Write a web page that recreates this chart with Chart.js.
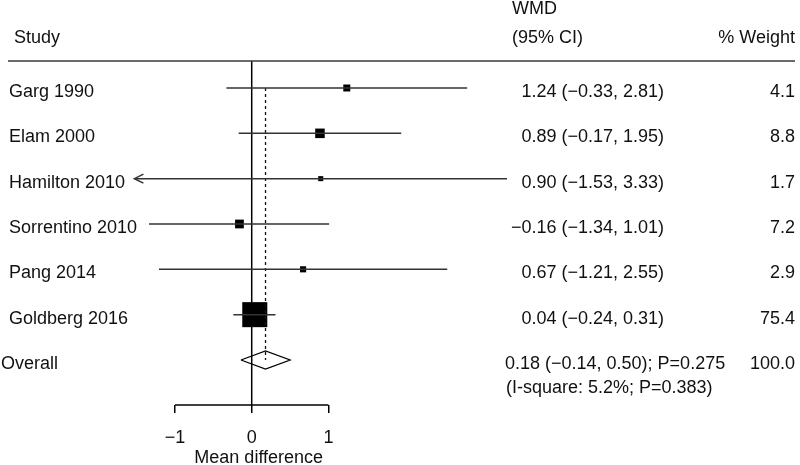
<!DOCTYPE html>
<html>
<head>
<meta charset="utf-8">
<script src="https://cdn.jsdelivr.net/npm/chart.js@4.4.1/dist/chart.umd.min.js"></script>
<style>
  html, body { margin: 0; padding: 0; background: #fff; }
  #wrap { width: 800px; height: 465px; position: relative; }
</style>
</head>
<body>
<div id="wrap"><canvas id="forest"></canvas></div>
<script>
// Study data
const studies = ['Garg 1990', 'Elam 2000', 'Hamilton 2010', 'Sorrentino 2010', 'Pang 2014', 'Goldberg 2016'];
const wmd = [1.24, 0.89, 0.90, -0.16, 0.67, 0.04];
const ciLow = [-0.33, -0.17, -1.53, -1.34, -1.21, -0.24];
const ciHigh = [2.81, 1.95, 3.33, 1.01, 2.55, 0.31];
const weights = [4.1, 8.8, 1.7, 7.2, 2.9, 75.4];
const arrowLeft = ['Hamilton 2010'];

// Pooled estimate
const overallLabel = 'Overall';
const overall = [0.18, -0.14, 0.50];   // est, low, high
const overallP = '0.275';
const overallWeight = '100.0';
const heterogeneity = '(I-square: 5.2%; P=0.383)';

const xTicks = [-1, 0, 1];
const xTitle = 'Mean difference';

const fmt = v => (v < 0 ? '\u2212' : '') + Math.abs(v).toFixed(2);
const ciText = i => `${fmt(wmd[i])} (${fmt(ciLow[i])}, ${fmt(ciHigh[i])})`;

const ink = '#111';
const lineGrey = '#333';
const overallRow = studies.length;

// --- datasets ---
const datasets = [];

// confidence interval whiskers
studies.forEach((s, i) => {
    datasets.push({
        type: 'line',
        data: [{ x: ciLow[i], y: i }, { x: ciHigh[i], y: i }],
        borderColor: lineGrey,
        borderWidth: 1.5,
        pointRadius: 0
    });
});

// dotted line at pooled estimate
datasets.push({
    type: 'line',
    data: [{ x: overall[0], y: 0 }, { x: overall[0], y: overallRow }],
    borderColor: ink,
    borderWidth: 1.3,
    borderDash: [3, 3],
    pointRadius: 0
});

// weight boxes (side grows with sqrt of weight)
datasets.push({
    type: 'scatter',
    data: studies.map((s, i) => ({ x: wmd[i], y: i })),
    pointStyle: 'rect',
    pointRadius: weights.map(w => (1.5 + 2.71 * Math.sqrt(w)) / Math.SQRT2),
    backgroundColor: '#000',
    borderWidth: 0
});

// pooled diamond
const dh = 0.2;
datasets.push({
    type: 'line',
    data: [
        { x: overall[1], y: overallRow },
        { x: overall[0], y: overallRow - dh },
        { x: overall[2], y: overallRow },
        { x: overall[0], y: overallRow + dh },
        { x: overall[1], y: overallRow }
    ],
    borderColor: '#000',
    borderWidth: 1.3,
    backgroundColor: '#fff',
    fill: true,
    tension: 0,
    pointRadius: 0
});

// --- table text, zero line, axis line, arrow ---
const forestDecor = {
    id: 'forestDecor',
    beforeDatasetsDraw(chart) {
        const { ctx, scales: { x, y } } = chart;
        const x0 = x.getPixelForValue(0);
        ctx.save();
        ctx.strokeStyle = '#000';
        ctx.lineWidth = 1.5;
        // zero reference line
        ctx.beginPath();
        ctx.moveTo(x0, 61);
        ctx.lineTo(x0, chart.chartArea.bottom);
        ctx.stroke();
        // axis line between outer ticks
        ctx.beginPath();
        ctx.moveTo(x.getPixelForValue(xTicks[0]), chart.chartArea.bottom);
        ctx.lineTo(x.getPixelForValue(xTicks[xTicks.length - 1]), chart.chartArea.bottom);
        ctx.stroke();
        // header rule
        ctx.strokeStyle = '#3a3a3a';
        ctx.beginPath();
        ctx.moveTo(8, 61);
        ctx.lineTo(795, 61);
        ctx.stroke();
        ctx.restore();
    },
    afterDatasetsDraw(chart) {
        const { ctx, scales: { x, y } } = chart;
        ctx.save();
        ctx.fillStyle = ink;
        ctx.font = "18px 'Liberation Sans', Arial, sans-serif";
        ctx.textBaseline = 'alphabetic';

        // header
        ctx.textAlign = 'left';
        ctx.fillText('Study', 14, 43);
        ctx.fillText('WMD', 512, 14);
        ctx.fillText('(95% CI)', 512, 43);
        ctx.textAlign = 'right';
        ctx.fillText('% Weight', 795, 43);

        // study rows
        studies.forEach((s, i) => {
            const py = y.getPixelForValue(i) + 9;
            ctx.textAlign = 'left';
            ctx.fillText(s, 9, py);
            ctx.textAlign = 'right';
            ctx.fillText(ciText(i), 664, py);
            ctx.fillText(weights[i].toFixed(1), 795, py);
        });

        // overall row
        const oy = y.getPixelForValue(overallRow) + 9;
        ctx.textAlign = 'left';
        ctx.fillText(overallLabel, 1, oy);
        ctx.fillText(`${fmt(overall[0])} (${fmt(overall[1])}, ${fmt(overall[2])}); P=${overallP}`, 505, oy);
        ctx.fillText(heterogeneity, 506, oy + 24);
        ctx.textAlign = 'right';
        ctx.fillText(overallWeight, 795, oy);

        // axis title, centred just right of the zero tick as in the original
        ctx.textAlign = 'center';
        ctx.fillText(xTitle, x.getPixelForValue(0) + 7, 463);

        // arrowheads for truncated intervals
        ctx.strokeStyle = lineGrey;
        ctx.lineWidth = 1.5;
        arrowLeft.forEach(name => {
            const i = studies.indexOf(name);
            const ax = x.getPixelForValue(ciLow[i]);
            const ay = y.getPixelForValue(i);
            ctx.beginPath();
            ctx.moveTo(ax + 9, ay - 4.5);
            ctx.lineTo(ax, ay);
            ctx.lineTo(ax + 9, ay + 4.5);
            ctx.stroke();
        });
        ctx.restore();
    }
};

Chart.defaults.font.family = "'Liberation Sans', Arial, sans-serif";
Chart.defaults.color = ink;

new Chart(document.getElementById('forest'), {
    data: { datasets },
    options: {
        responsive: true,
        maintainAspectRatio: false,
        animation: false,
        layout: { padding: 0, autoPadding: false },
        plugins: {
            legend: { display: false },
            tooltip: { enabled: false }
        },
        scales: {
            x: {
                type: 'linear',
                position: 'bottom',
                min: -3.283,
                max: 7.151,
                afterBuildTicks: axis => { axis.ticks = xTicks.map(v => ({ value: v })); },
                afterFit: axis => { axis.height = 60; },
                border: { display: false },
                grid: {
                    display: true,
                    drawOnChartArea: false,
                    drawTicks: true,
                    tickLength: 8,
                    color: '#000',
                    lineWidth: 1.5
                },
                ticks: {
                    padding: 14,
                    font: { size: 18 },
                    color: ink,
                    callback: v => (v < 0 ? '\u2212' : '') + Math.abs(v)
                },
                title: { display: false }
            },
            y: {
                type: 'linear',
                display: false,
                reverse: true,
                min: -1.941,
                max: 6.993
            }
        }
    },
    plugins: [forestDecor]
});
</script>
</body>
</html>
